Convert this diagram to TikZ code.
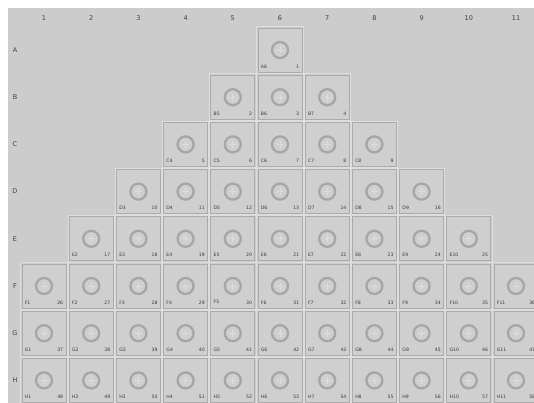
\documentclass[tikz,border=0pt]{standalone}
\usepackage{fontspec}
\setmainfont{DejaVu Sans}
\begin{document}
\begin{tikzpicture}[x=1pt,y=-1pt,
  bg/.style={fill=plate},
  wellout/.style={draw=lightline,line width=0.9pt,minimum size=46.5pt,inner sep=0pt},
  wellbox/.style={draw=boxline,line width=0.7pt,minimum size=44pt,inner sep=0pt,fill=cellfill},
  ring/.style={draw=ringcol,line width=2.3pt,circle,minimum size=16pt,inner sep=0pt},
  crossl/.style={draw=crosscol,line width=0.7pt},
  tag/.style={font=\fontsize{4.6}{5}\selectfont,text=labcol,inner sep=0pt},
  head/.style={font=\fontsize{6.5}{7}\selectfont,text=headcol,inner sep=0pt}]
\definecolor{plate}{HTML}{CCCCCC}
\definecolor{cellfill}{HTML}{CFCFCF}
\definecolor{boxline}{HTML}{ABABAB}
\definecolor{lightline}{HTML}{DDDDDD}
\definecolor{ringcol}{HTML}{A6A6A6}
\definecolor{crosscol}{HTML}{DEDEDE}
\definecolor{labcol}{HTML}{3A3A3A}
\definecolor{headcol}{HTML}{404040}
\useasboundingbox (0,0) rectangle (534,403);
\fill[white] (0,0) rectangle (534,403);
\fill[bg] (8,8) rectangle (534,403);
% column headers
\foreach \c in {1,...,11}{
  \node[head] (col\c) at ({44+(\c-1)*47.2},18) {\c};
}
% rows
\foreach \r/\lab/\a/\b/\n in {1/A/6/6/1,2/B/5/7/2,3/C/4/8/5,4/D/3/9/10,5/E/2/10/17,6/F/1/11/26,7/G/1/11/37,8/H/1/11/48}{
  \node[head] (row\lab) at (15,{50+(\r-1)*47.2}) {\lab};
  \foreach \c [count=\k from 0] in {\a,...,\b}{
    \pgfmathtruncatemacro\num{\n+\k}
    \pgfmathsetmacro\cx{44+(\c-1)*47.2}
    \pgfmathsetmacro\cy{50+(\r-1)*47.2}
    \node[wellout] (o\lab\c) at (\cx,\cy) {};
    \node[wellbox] (\lab\c) at (\cx,\cy) {};
    \node[ring] (r\lab\c) at (\cx,\cy) {};
    \draw[crossl] ([xshift=-3.5pt]r\lab\c.center) -- ([xshift=3.5pt]r\lab\c.center);
    \draw[crossl] ([yshift=-3.5pt]r\lab\c.center) -- ([yshift=3.5pt]r\lab\c.center);
    \node[tag,anchor=west] (n\lab\c) at ([xshift=3pt,yshift=6pt]\lab\c.south west) {\lab\c};
    \node[tag,anchor=east] (k\lab\c) at ([xshift=-3pt,yshift=6pt]\lab\c.south east) {\num};
  }
}
\end{tikzpicture}
\end{document}
